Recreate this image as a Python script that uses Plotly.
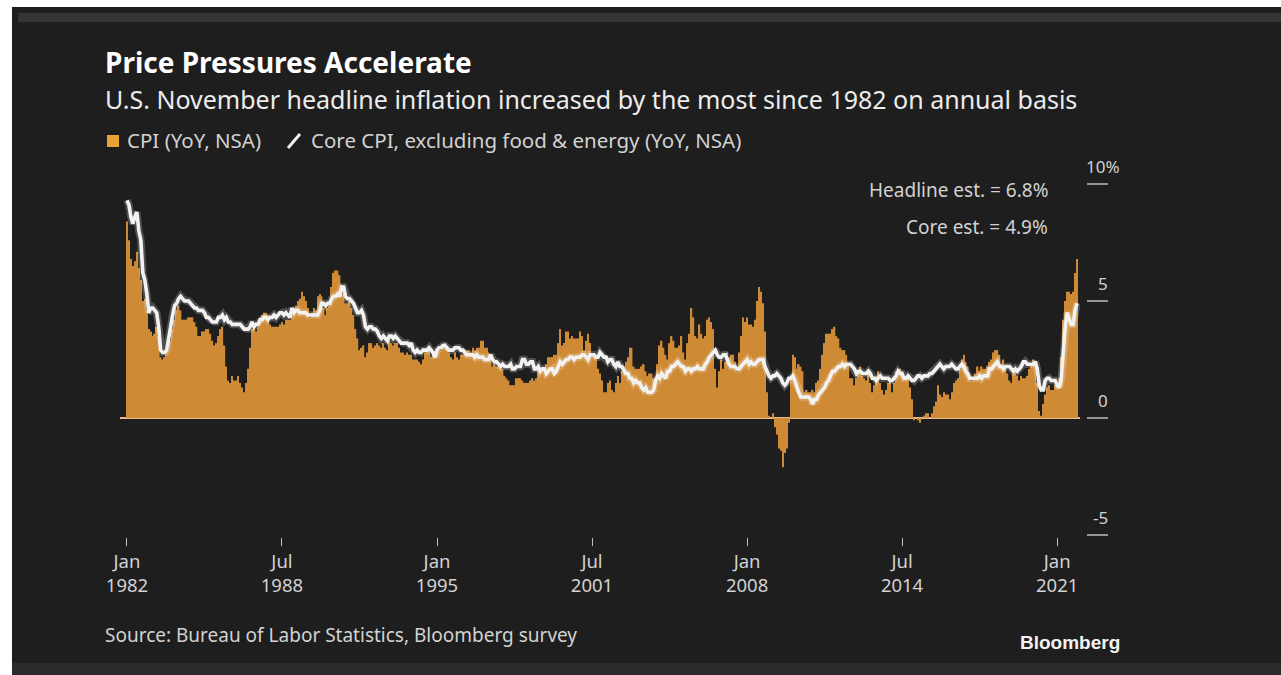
import pandas as pd
import plotly.graph_objects as go

# ---------------- data (YoY %, monthly, Jan 1982 - Nov 2021) ----------------
cpi_yoy = [
    8.4, 7.6, 6.8, 6.5, 6.7, 7.1, 6.4, 5.9, 5.0, 5.1, 4.6, 3.8,   # 1982
    3.7, 3.5, 3.6, 3.9, 3.5, 2.6, 2.5, 2.6, 2.9, 2.9, 3.3, 3.8,   # 1983
    4.2, 4.6, 4.8, 4.6, 4.2, 4.2, 4.2, 4.3, 4.3, 4.3, 4.1, 3.9,   # 1984
    3.5, 3.5, 3.7, 3.7, 3.8, 3.8, 3.6, 3.3, 3.1, 3.2, 3.5, 3.8,   # 1985
    3.9, 3.1, 2.2, 1.6, 1.5, 1.8, 1.6, 1.6, 1.8, 1.5, 1.3, 1.1,   # 1986
    1.5, 2.1, 3.0, 3.8, 3.9, 3.7, 3.9, 4.3, 4.4, 4.5, 4.5, 4.4,   # 1987
    4.0, 3.9, 3.9, 3.9, 3.9, 4.0, 4.1, 4.0, 4.2, 4.2, 4.2, 4.4,   # 1988
    4.7, 4.8, 5.0, 5.1, 5.4, 5.2, 5.0, 4.7, 4.3, 4.5, 4.7, 4.6,   # 1989
    5.2, 5.3, 5.2, 4.7, 4.4, 4.7, 4.8, 5.6, 6.2, 6.3, 6.3, 6.1,   # 1990
    5.7, 5.3, 4.9, 4.9, 5.0, 4.7, 4.4, 3.8, 3.4, 2.9, 3.0, 3.1,   # 1991
    2.6, 2.8, 3.2, 3.2, 3.0, 3.1, 3.2, 3.1, 3.0, 3.2, 3.0, 2.9,   # 1992
    3.3, 3.2, 3.1, 3.2, 3.2, 3.0, 2.8, 2.8, 2.7, 2.8, 2.7, 2.7,   # 1993
    2.5, 2.5, 2.5, 2.4, 2.3, 2.5, 2.8, 2.9, 3.0, 2.6, 2.7, 2.7,   # 1994
    2.8, 2.9, 2.9, 3.1, 3.2, 3.0, 2.8, 2.6, 2.5, 2.8, 2.6, 2.5,   # 1995
    2.7, 2.7, 2.8, 2.9, 2.9, 2.8, 3.0, 2.9, 3.0, 3.0, 3.3, 3.3,   # 1996
    3.0, 3.0, 2.8, 2.5, 2.2, 2.3, 2.2, 2.2, 2.2, 2.1, 1.8, 1.7,   # 1997
    1.6, 1.4, 1.4, 1.4, 1.7, 1.7, 1.7, 1.6, 1.5, 1.5, 1.5, 1.6,   # 1998
    1.7, 1.6, 1.7, 2.3, 2.1, 2.0, 2.1, 2.3, 2.6, 2.6, 2.6, 2.7,   # 1999
    2.7, 3.2, 3.8, 3.1, 3.2, 3.7, 3.7, 3.4, 3.5, 3.4, 3.4, 3.4,   # 2000
    3.7, 3.5, 2.9, 3.3, 3.6, 3.2, 2.7, 2.7, 2.6, 2.1, 1.9, 1.6,   # 2001
    1.1, 1.1, 1.5, 1.6, 1.2, 1.1, 1.5, 1.8, 1.5, 2.0, 2.2, 2.4,   # 2002
    2.6, 3.0, 3.0, 2.2, 2.1, 2.1, 2.1, 2.2, 2.3, 2.0, 1.8, 1.9,   # 2003
    1.9, 1.7, 1.7, 2.3, 3.1, 3.3, 3.0, 2.7, 2.5, 3.2, 3.5, 3.3,   # 2004
    3.0, 3.0, 3.1, 3.5, 2.8, 2.5, 3.2, 3.6, 4.7, 4.3, 3.5, 3.4,   # 2005
    4.0, 3.6, 3.4, 3.5, 4.2, 4.3, 4.1, 3.8, 2.1, 1.3, 2.0, 2.5,   # 2006
    2.1, 2.4, 2.8, 2.6, 2.7, 2.7, 2.4, 2.0, 2.8, 3.5, 4.3, 4.1,   # 2007
    4.3, 4.0, 4.0, 3.9, 4.2, 5.0, 5.6, 5.4, 4.9, 3.7, 1.1, 0.1,   # 2008
    0.0, 0.2, -0.4, -0.7, -1.3, -1.4, -2.1, -1.5, -1.3, -0.2, 1.8, 2.7,  # 2009
    2.6, 2.1, 2.3, 2.2, 2.0, 1.1, 1.2, 1.1, 1.1, 1.2, 1.1, 1.5,   # 2010
    1.6, 2.1, 2.7, 3.2, 3.6, 3.6, 3.6, 3.8, 3.9, 3.5, 3.4, 3.0,   # 2011
    2.9, 2.9, 2.7, 2.3, 1.7, 1.7, 1.4, 1.7, 2.0, 2.2, 1.8, 1.7,   # 2012
    1.6, 2.0, 1.5, 1.1, 1.4, 1.8, 2.0, 1.5, 1.2, 1.0, 1.2, 1.5,   # 2013
    1.6, 1.1, 1.5, 2.0, 2.1, 2.1, 2.0, 1.7, 1.7, 1.7, 1.3, 0.8,   # 2014
    -0.1, 0.0, -0.1, -0.2, 0.0, 0.1, 0.2, 0.2, 0.0, 0.2, 0.5, 0.7,  # 2015
    1.4, 1.0, 0.9, 1.1, 1.0, 1.0, 0.8, 1.1, 1.5, 1.6, 1.7, 2.1,   # 2016
    2.5, 2.7, 2.4, 2.2, 1.9, 1.6, 1.7, 1.9, 2.2, 2.0, 2.2, 2.1,   # 2017
    2.1, 2.2, 2.4, 2.5, 2.8, 2.9, 2.9, 2.7, 2.3, 2.5, 2.2, 1.9,   # 2018
    1.6, 1.5, 1.9, 2.0, 1.8, 1.6, 1.8, 1.7, 1.7, 1.8, 2.1, 2.3,   # 2019
    2.5, 2.3, 1.5, 0.3, 0.1, 0.6, 1.0, 1.3, 1.4, 1.2, 1.2, 1.4,   # 2020
    1.4, 1.7, 2.6, 4.2, 5.0, 5.4, 5.4, 5.3, 5.4, 6.2, 6.8,        # 2021 (Nov est.)
]

core_yoy = [
    9.3, 9.1, 8.6, 8.3, 8.6, 8.8, 8.0, 7.6, 6.2, 5.9, 5.3, 4.5,   # 1982
    4.7, 4.7, 4.6, 4.5, 3.9, 2.9, 2.8, 2.8, 2.9, 3.4, 4.1, 4.4,   # 1983
    4.8, 4.9, 5.1, 5.2, 5.1, 5.0, 5.0, 5.0, 4.9, 4.8, 4.7, 4.7,   # 1984
    4.6, 4.6, 4.6, 4.5, 4.3, 4.3, 4.2, 4.1, 4.1, 4.1, 4.3, 4.3,   # 1985
    4.4, 4.2, 4.3, 4.1, 4.1, 4.0, 4.0, 4.0, 4.0, 4.0, 3.9, 3.8,   # 1986
    3.8, 3.8, 3.9, 4.1, 3.9, 4.0, 4.0, 4.2, 4.2, 4.3, 4.3, 4.2,   # 1987
    4.3, 4.3, 4.4, 4.3, 4.4, 4.5, 4.5, 4.4, 4.5, 4.4, 4.3, 4.7,   # 1988
    4.5, 4.6, 4.6, 4.5, 4.5, 4.5, 4.5, 4.4, 4.4, 4.4, 4.4, 4.4,   # 1989
    4.4, 4.6, 4.9, 4.9, 4.8, 4.9, 4.9, 5.1, 5.2, 5.2, 5.3, 5.2,   # 1990
    5.6, 5.6, 5.2, 5.1, 5.1, 5.0, 4.9, 4.7, 4.5, 4.5, 4.6, 4.4,   # 1991
    3.9, 3.8, 3.9, 3.9, 3.8, 3.8, 3.7, 3.5, 3.4, 3.5, 3.4, 3.3,   # 1992
    3.5, 3.5, 3.4, 3.5, 3.4, 3.3, 3.2, 3.2, 3.2, 3.2, 3.1, 3.2,   # 1993
    2.9, 2.8, 2.9, 2.8, 2.8, 2.9, 2.9, 2.9, 3.0, 2.9, 2.8, 2.6,   # 1994
    2.9, 3.0, 3.0, 3.1, 3.1, 3.0, 2.9, 2.9, 2.9, 3.0, 3.0, 3.0,   # 1995
    2.9, 2.9, 2.8, 2.7, 2.7, 2.7, 2.7, 2.6, 2.7, 2.6, 2.6, 2.6,   # 1996
    2.5, 2.5, 2.5, 2.7, 2.5, 2.4, 2.4, 2.3, 2.2, 2.3, 2.2, 2.2,   # 1997
    2.2, 2.3, 2.1, 2.1, 2.2, 2.2, 2.2, 2.5, 2.5, 2.3, 2.3, 2.4,   # 1998
    2.4, 2.1, 2.1, 2.2, 2.0, 2.1, 2.1, 1.9, 2.0, 2.1, 2.1, 1.9,   # 1999
    2.0, 2.2, 2.4, 2.3, 2.4, 2.5, 2.5, 2.6, 2.6, 2.5, 2.6, 2.6,   # 2000
    2.6, 2.7, 2.7, 2.6, 2.5, 2.7, 2.7, 2.7, 2.6, 2.6, 2.8, 2.7,   # 2001
    2.6, 2.6, 2.4, 2.5, 2.5, 2.3, 2.2, 2.4, 2.2, 2.2, 2.0, 1.9,   # 2002
    1.9, 1.7, 1.7, 1.5, 1.6, 1.5, 1.5, 1.3, 1.2, 1.3, 1.1, 1.1,   # 2003
    1.1, 1.2, 1.6, 1.8, 1.7, 1.9, 1.8, 1.7, 2.0, 2.0, 2.2, 2.2,   # 2004
    2.3, 2.4, 2.3, 2.2, 2.2, 2.0, 2.1, 2.1, 2.0, 2.1, 2.1, 2.2,   # 2005
    2.1, 2.1, 2.1, 2.3, 2.4, 2.6, 2.7, 2.8, 2.9, 2.7, 2.6, 2.6,   # 2006
    2.7, 2.7, 2.5, 2.3, 2.2, 2.2, 2.2, 2.1, 2.1, 2.2, 2.3, 2.4,   # 2007
    2.5, 2.3, 2.4, 2.3, 2.3, 2.4, 2.5, 2.5, 2.5, 2.2, 2.0, 1.8,   # 2008
    1.7, 1.8, 1.8, 1.9, 1.8, 1.7, 1.5, 1.4, 1.5, 1.7, 1.7, 1.8,   # 2009
    1.6, 1.3, 1.1, 0.9, 0.9, 0.9, 0.9, 0.9, 0.8, 0.6, 0.8, 0.8,   # 2010
    1.0, 1.1, 1.2, 1.3, 1.5, 1.6, 1.8, 2.0, 2.0, 2.1, 2.2, 2.2,   # 2011
    2.3, 2.2, 2.3, 2.3, 2.3, 2.2, 2.1, 1.9, 2.0, 2.0, 1.9, 1.9,   # 2012
    1.9, 2.0, 1.9, 1.7, 1.7, 1.6, 1.7, 1.8, 1.7, 1.7, 1.7, 1.7,   # 2013
    1.6, 1.6, 1.7, 1.8, 2.0, 1.9, 1.9, 1.7, 1.7, 1.8, 1.7, 1.6,   # 2014
    1.6, 1.7, 1.8, 1.8, 1.7, 1.8, 1.8, 1.8, 1.9, 1.9, 2.0, 2.1,   # 2015
    2.2, 2.3, 2.2, 2.1, 2.2, 2.2, 2.2, 2.3, 2.2, 2.1, 2.1, 2.2,   # 2016
    2.3, 2.2, 2.0, 1.9, 1.7, 1.7, 1.7, 1.7, 1.7, 1.8, 1.7, 1.8,   # 2017
    1.8, 1.8, 2.1, 2.1, 2.2, 2.3, 2.4, 2.2, 2.2, 2.1, 2.2, 2.2,   # 2018
    2.2, 2.1, 2.0, 2.1, 2.0, 2.1, 2.2, 2.4, 2.4, 2.3, 2.3, 2.3,   # 2019
    2.3, 2.4, 2.1, 1.4, 1.2, 1.2, 1.6, 1.7, 1.7, 1.6, 1.6, 1.6,   # 2020
    1.4, 1.3, 1.6, 3.0, 3.8, 4.5, 4.3, 4.0, 4.0, 4.6, 4.9,        # 2021 (Nov est.)
]

start_month = "1982-01-01"
tick_dates = ["1982-01-01", "1988-07-01", "1995-01-01", "2001-07-01",
              "2008-01-01", "2014-07-01", "2021-01-01"]
tick_labels = ["Jan<br>1982", "Jul<br>1988", "Jan<br>1995", "Jul<br>2001",
               "Jan<br>2008", "Jul<br>2014", "Jan<br>2021"]
y_ticks = [10, 5, 0, -5]
y_tick_text = ["10%", "5", "0", "-5"]

title = "Price Pressures Accelerate"
subtitle = "U.S. November headline inflation increased by the most since 1982 on annual basis"
legend_cpi = "CPI (YoY, NSA)"
legend_core = "Core CPI, excluding food & energy (YoY, NSA)"
note_headline = "Headline est. = 6.8%"
note_core = "Core est. = 4.9%"
source = "Source: Bureau of Labor Statistics, Bloomberg survey"

dates = pd.date_range(start_month, periods=len(cpi_yoy), freq="MS")

# ---------------- layout geometry (pixels) ----------------
W, H = 1281, 675
L, R, T, B = 120, 1080, 150, 537
PW, PH = R - L, B - T


def px(x):
    return (x - L) / PW


def py(y):
    return (B - y) / PH


BG = "#1e1e1e"
BAR = "#cf8a35"
TXT = "#d2d2d2"
FONT = "Noto Sans"

fig = go.Figure()
fig.add_trace(go.Bar(
    x=dates, y=cpi_yoy, name=legend_cpi,
    marker=dict(color=BAR, line=dict(width=0)),
    showlegend=False,
))
fig.add_trace(go.Scatter(
    x=dates, y=core_yoy, mode="lines", hoverinfo="skip",
    line=dict(color="rgba(255,255,255,0.22)", width=7.5),
    showlegend=False,
))
fig.add_trace(go.Scatter(
    x=dates, y=core_yoy, mode="lines", name=legend_core,
    line=dict(color="#f2f2f2", width=3.6),
    showlegend=False,
))

shapes = [
    # white page edges
    dict(type="rect", xref="paper", yref="paper", x0=px(-20), x1=px(W + 20),
         y0=py(7), y1=py(-20), fillcolor="white", line=dict(width=0), layer="below"),
    dict(type="rect", xref="paper", yref="paper", x0=px(-20), x1=px(12),
         y0=py(H + 20), y1=py(-20), fillcolor="white", line=dict(width=0), layer="below"),
    # subtle top band and bottom band
    dict(type="rect", xref="paper", yref="paper", x0=px(18), x1=px(W),
         y0=py(22), y1=py(13), fillcolor="#343434", line=dict(width=0), layer="below"),
    dict(type="rect", xref="paper", yref="paper", x0=px(12), x1=px(W),
         y0=py(H), y1=py(663), fillcolor="#2a2a2a", line=dict(width=0), layer="below"),
    # legend symbols
    dict(type="rect", xref="paper", yref="paper", x0=px(107), x1=px(119),
         y0=py(147), y1=py(135), fillcolor="#e9a235", line=dict(width=0)),
    dict(type="line", xref="paper", yref="paper", x0=px(288), x1=px(300),
         y0=py(148), y1=py(134), line=dict(color="#f0f0f0", width=3)),
]
annotations = []
for v, t in zip(y_ticks, y_tick_text):
    shapes.append(dict(type="line", xref="paper", yref="y", x0=px(1087), x1=px(1108),
                       y0=v, y1=v, line=dict(color="#bdbdbd", width=1.5)))
    annotations.append(dict(xref="paper", yref="y", x=px(1122 if t.endswith("%") else 1110),
                            y=v, text=t, showarrow=False, xanchor="right", yanchor="bottom",
                            yshift=4, font=dict(family=FONT, size=17, color=TXT)))

annotations += [
    dict(xref="paper", yref="paper", x=px(103), y=py(62), text="<b>" + title + "</b>",
         showarrow=False, xanchor="left", yanchor="middle",
         font=dict(family=FONT, size=28, color="#ffffff")),
    dict(xref="paper", yref="paper", x=px(103), y=py(99.5), text=subtitle,
         showarrow=False, xanchor="left", yanchor="middle",
         font=dict(family=FONT, size=25, color="#ececec")),
    dict(xref="paper", yref="paper", x=px(125), y=py(140), text=legend_cpi,
         showarrow=False, xanchor="left", yanchor="middle",
         font=dict(family=FONT, size=20.5, color=TXT)),
    dict(xref="paper", yref="paper", x=px(309), y=py(140), text=legend_core,
         showarrow=False, xanchor="left", yanchor="middle",
         font=dict(family=FONT, size=20.5, color=TXT)),
    dict(xref="paper", yref="paper", x=px(1050), y=py(190), text=note_headline,
         showarrow=False, xanchor="right", yanchor="middle",
         font=dict(family=FONT, size=19, color=TXT)),
    dict(xref="paper", yref="paper", x=px(1050), y=py(227), text=note_core,
         showarrow=False, xanchor="right", yanchor="middle",
         font=dict(family=FONT, size=19, color=TXT)),
    dict(xref="paper", yref="paper", x=px(103), y=py(635), text=source,
         showarrow=False, xanchor="left", yanchor="middle",
         font=dict(family=FONT, size=19, color=TXT)),
    dict(xref="paper", yref="paper", x=px(1122), y=py(642), text="<b>Bloomberg</b>",
         showarrow=False, xanchor="right", yanchor="middle",
         font=dict(family="Liberation Sans", size=19, color="#f2f2f2")),
]

y_top = (418 - T) / 23.4
y_bot = (418 - B) / 23.4

fig.update_layout(
    width=W, height=H,
    margin=dict(l=L, r=W - R, t=T, b=H - B, pad=0),
    paper_bgcolor=BG, plot_bgcolor=BG,
    bargap=0.18,
    shapes=shapes, annotations=annotations,
    showlegend=False,
    xaxis=dict(
        type="date", range=["1981-09-16", "2021-12-16"],
        tickmode="array", tickvals=tick_dates, ticktext=tick_labels,
        ticks="outside", ticklen=8, tickwidth=1.2, tickcolor="#bdbdbd",
        showgrid=False, zeroline=False, showline=False,
        tickfont=dict(family=FONT, size=18.5, color=TXT),
    ),
    yaxis=dict(
        range=[y_bot, y_top], showticklabels=False, showgrid=False,
        zeroline=True, zerolinecolor="#e7bd85", zerolinewidth=1.5,
        showline=False, ticks="",
    ),
)

fig.write_html("out.html")
